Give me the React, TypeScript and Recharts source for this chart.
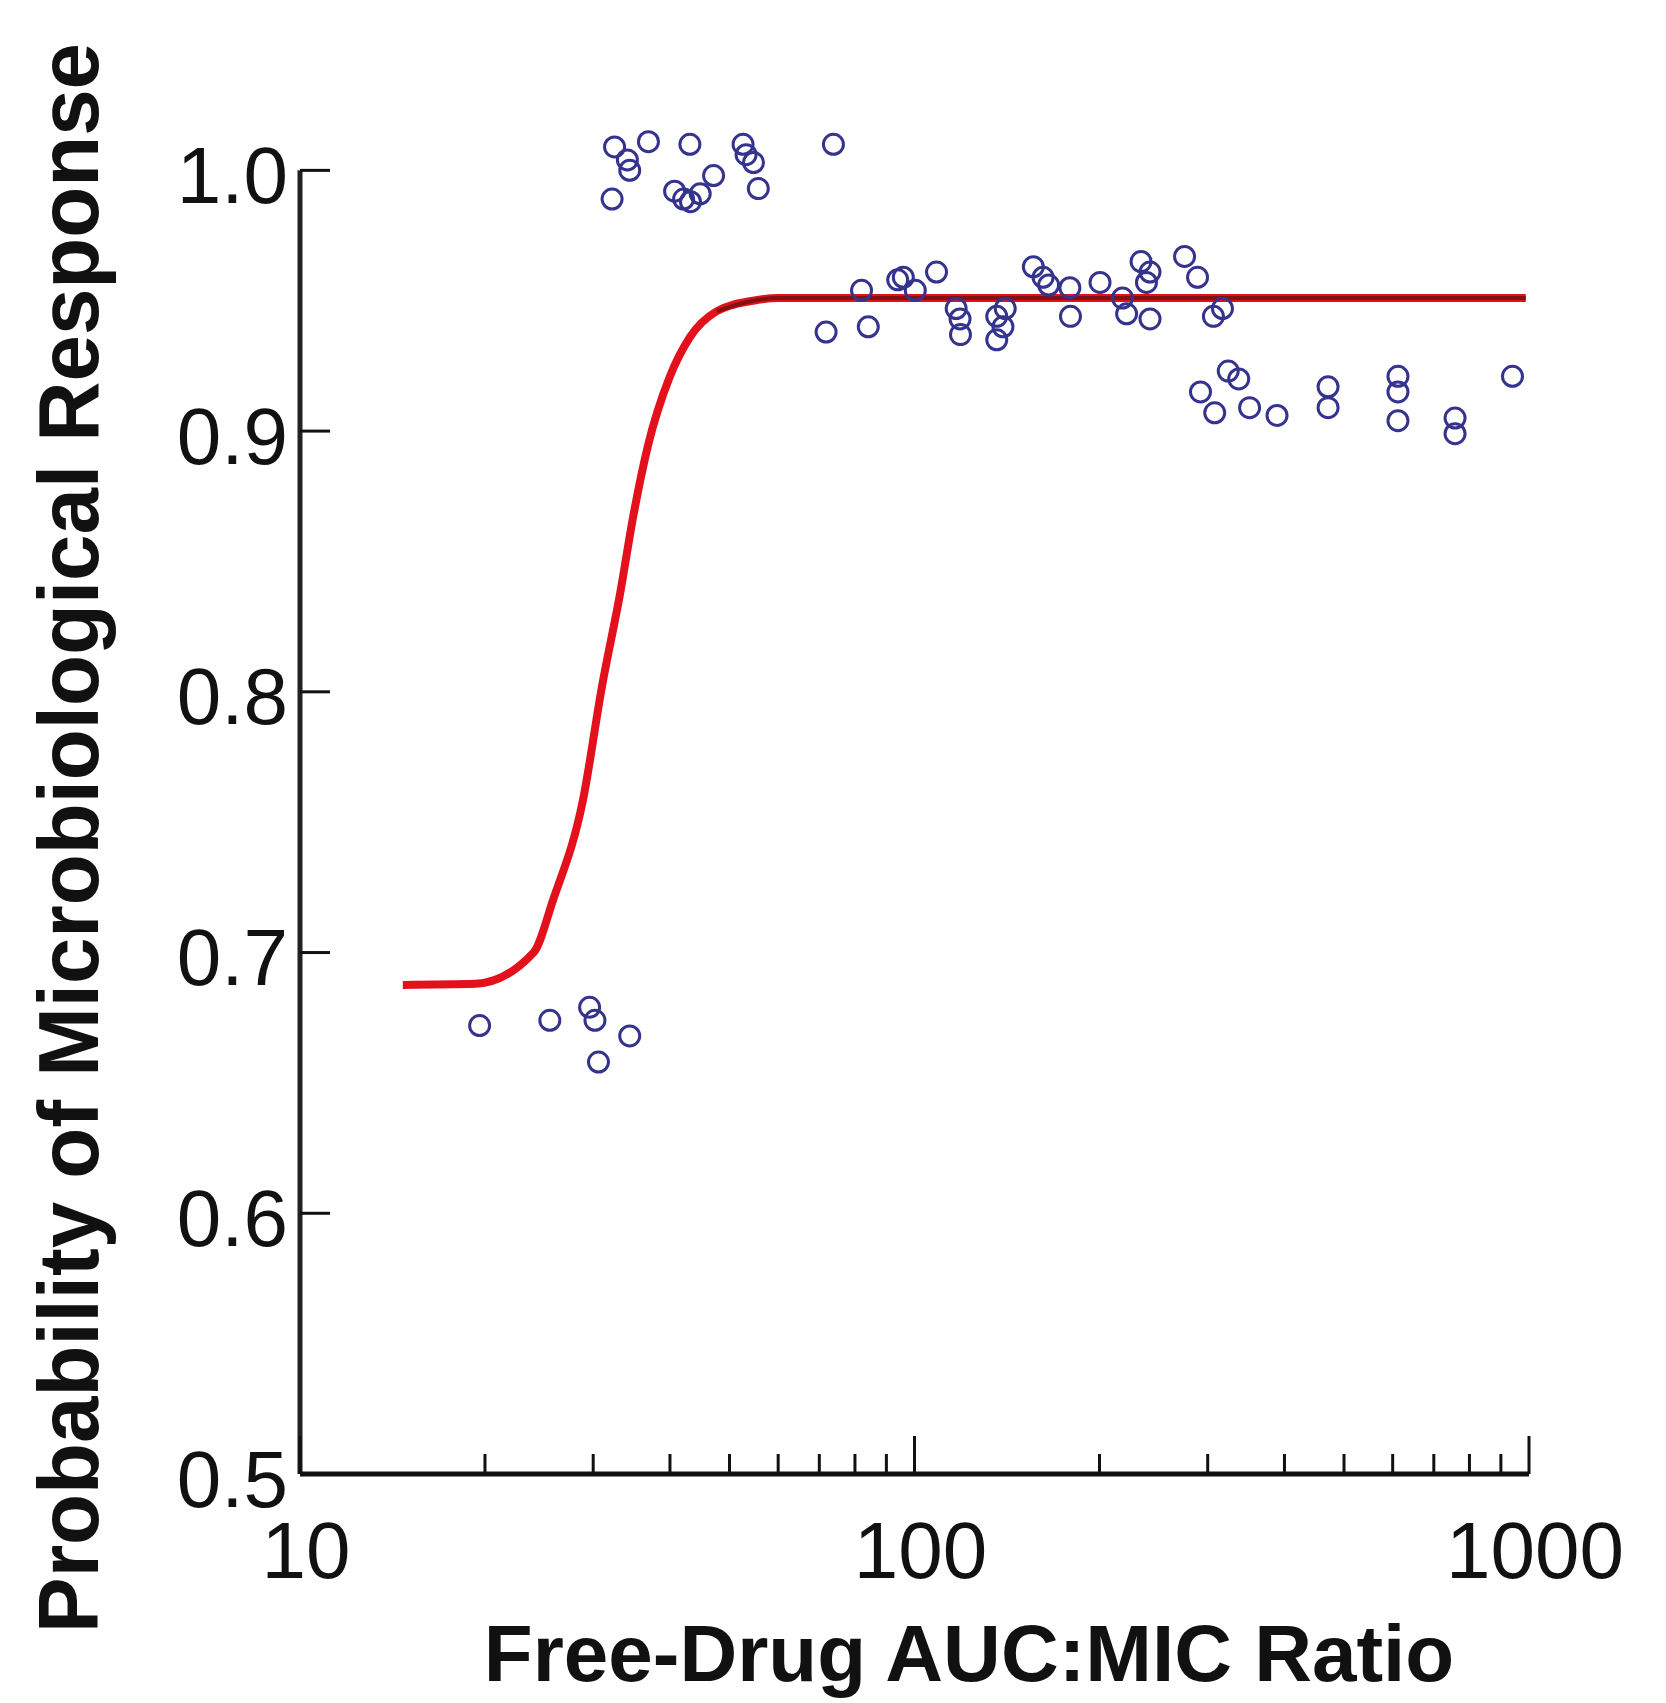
import { ComposedChart, Line, Scatter, XAxis, YAxis, ReferenceLine } from "recharts";

const FONT = '"Liberation Sans", Arial, Helvetica, sans-serif';

// fitted curve (free-drug AUC:MIC -> probability)
const curveAuc = [14.7, 19.3, 24.0, 25.8, 28.9, 31.0, 33.2, 34.9, 36.8, 40.0, 43.1, 47.7, 54.6, 60, 988];
const curveProb = [0.6876, 0.688, 0.7, 0.72, 0.759, 0.802, 0.838, 0.868, 0.894, 0.921, 0.936, 0.946, 0.95, 0.951, 0.951];

// observed points
const pointAuc = [
  19.6, 25.5, 29.6, 30.2, 30.6, 34.4,
  32.2, 32.5, 34.1, 34.4, 36.9, 40.7, 42.1, 43.1, 43.2, 44.8, 47.1, 52.6, 53.2, 54.7, 55.7, 73.8,
  71.8, 82.0, 84.1, 93.9, 95.9, 100.3, 108.6, 116.9, 118.6, 118.8, 136.1, 136.1, 139.3, 140.5, 156.1, 161.9, 165.3, 179.0, 179.4, 200.4, 218, 221.4, 233.7, 238.5, 241.7, 241.7, 275.1, 288.8, 306.5, 317.1,
  292, 308, 324, 337, 351, 389, 471, 471, 612, 612, 612, 758, 758, 940,
];
const pointProb = [
  0.672, 0.674, 0.679, 0.674, 0.658, 0.668,
  0.989, 1.009, 1.004, 1.0, 1.011, 0.992, 0.989, 1.01, 0.988, 0.991, 0.998, 1.01, 1.006, 1.003, 0.993, 1.01,
  0.938, 0.954, 0.94, 0.958, 0.959, 0.954, 0.961, 0.947, 0.943, 0.937, 0.944, 0.935, 0.94, 0.947, 0.963, 0.959, 0.956, 0.955, 0.944, 0.957, 0.951, 0.945, 0.965, 0.957, 0.961, 0.943, 0.967, 0.959, 0.944, 0.947,
  0.915, 0.907, 0.923, 0.92, 0.909, 0.906, 0.917, 0.909, 0.921, 0.915, 0.904, 0.905, 0.899, 0.921,
];

const xMajor = [10, 100, 1000];
const xTicks = [10, 20, 30, 40, 50, 60, 70, 80, 90, 100, 200, 300, 400, 500, 600, 700, 800, 900, 1000];
const yTicks = [0.5, 0.6, 0.7, 0.8, 0.9, 1.0];

const curveData = curveAuc.map((x, i) => ({ x, y: curveProb[i] }));
const plateau = curveData.filter((d) => d.x >= 47);
const pointData = pointAuc.map((x, i) => ({ x, y: pointProb[i] }));

function XTick(props: any) {
  const { x, y, payload } = props;
  const v = payload.value;
  const major = xMajor.includes(v);
  return (
    <g>
      <line x1={x} x2={x} y1={y} y2={y - (major ? 38 : 20)} stroke="#111" strokeWidth={3} />
      {major && (
        <text x={x + 6} y={y + 104} textAnchor="middle" fontSize={80} fontFamily={FONT} fill="#111">
          {v}
        </text>
      )}
    </g>
  );
}

function YTick(props: any) {
  const { x, y, payload } = props;
  return (
    <g>
      <line x1={x} x2={x + 30} y1={y} y2={y} stroke="#111" strokeWidth={3} />
      <text x={x - 12} y={y + 5} textAnchor="end" dominantBaseline="central" fontSize={80} fontFamily={FONT} fill="#111">
        {payload.value.toFixed(1)}
      </text>
    </g>
  );
}

function Ring(props: any) {
  const { cx, cy } = props;
  return <circle cx={cx} cy={cy} r={10} fill="none" stroke="#34338e" strokeWidth={3} />;
}

export default function App() {
  return (
    <div style={{ position: "absolute", left: 0, top: 0, width: 1666, height: 1703, background: "#fff" }}>
      <ComposedChart width={1666} height={1703} margin={{ top: 40, right: 137, left: 200, bottom: 129 }}>
        <XAxis
          dataKey="x"
          type="number"
          scale="log"
          domain={[10, 1000]}
          allowDataOverflow
          ticks={xTicks}
          interval={0}
          tickSize={0}
          tickMargin={0}
          tick={XTick}
          height={100}
          axisLine={{ stroke: "#111", strokeWidth: 5 }}
        />
        <YAxis
          type="number"
          domain={[0.5, 1.05]}
          allowDataOverflow
          ticks={yTicks}
          interval={0}
          tickSize={0}
          tickMargin={0}
          tick={YTick}
          width={100}
          axisLine={false}
        />
        <ReferenceLine
          segment={[{ x: 10, y: 0.5 }, { x: 10, y: 1.0 }]}
          stroke="#222"
          strokeWidth={5}
        />
        <Line data={curveData} dataKey="y" type="monotone" stroke="#e3111b" strokeWidth={8} dot={false} isAnimationActive={false} />
        <Line data={plateau} dataKey="y" type="monotone" stroke="#7e1215" strokeWidth={4} dot={false} isAnimationActive={false} />
        <Scatter data={pointData} dataKey="y" shape={Ring} isAnimationActive={false} />
      </ComposedChart>
      <svg width={1666} height={1703} style={{ position: "absolute", left: 0, top: 0, pointerEvents: "none" }}>
        <text
          transform="translate(98, 838) rotate(-90)"
          textAnchor="middle"
          fontSize={86}
          fontWeight="bold"
          fontFamily={FONT}
          textLength={1590}
          lengthAdjust="spacingAndGlyphs"
          fill="#111"
        >
          Probability of Microbiological Response
        </text>
        <text x={969} y={1681} textAnchor="middle" fontSize={80} fontWeight="bold" fontFamily={FONT} fill="#111">
          Free-Drug AUC:MIC Ratio
        </text>
      </svg>
    </div>
  );
}
